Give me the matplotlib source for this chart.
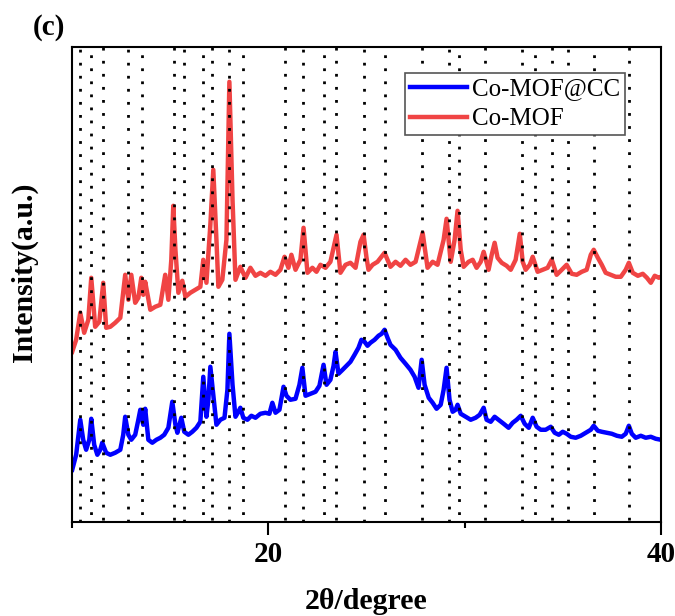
import numpy as np
import matplotlib
matplotlib.use('Agg')
import matplotlib.pyplot as plt

plt.rcParams['font.family'] = ['Liberation Serif', 'DejaVu Serif']

# 2theta (degree) and intensity (a.u.)
two_theta_mof = [10.00, 10.20, 10.41, 10.61, 10.82, 10.97, 11.17, 11.38, 11.58, 11.73,
                 11.94, 12.19, 12.45, 12.70, 12.86, 13.01, 13.21, 13.37, 13.52, 13.62,
                 13.72, 13.98, 14.23, 14.49, 14.74, 14.90, 15.05, 15.15, 15.26, 15.41,
                 15.61, 15.77, 16.02, 16.28, 16.53, 16.68, 16.84, 17.04, 17.19, 17.35,
                 17.45, 17.65, 17.86, 18.01, 18.17, 18.32, 18.57, 18.83, 19.08, 19.34,
                 19.59, 19.85, 20.10, 20.36, 20.61, 20.82, 21.02, 21.17, 21.38, 21.63,
                 21.79, 21.99, 22.24, 22.45, 22.65, 22.91, 23.16, 23.47, 23.67, 23.93,
                 24.18, 24.44, 24.69, 24.85, 25.00, 25.10, 25.31, 25.56, 25.92, 26.22,
                 26.48, 26.73, 26.99, 27.24, 27.50, 27.86, 28.11, 28.37, 28.62, 28.93,
                 29.08, 29.29, 29.49, 29.64, 29.80, 29.95, 30.20, 30.41, 30.61, 30.82,
                 30.97, 31.22, 31.38, 31.53, 31.68, 31.89, 32.14, 32.35, 32.60, 32.81,
                 32.96, 33.11, 33.32, 33.47, 33.72, 33.98, 34.23, 34.44, 34.69, 34.95,
                 35.20, 35.46, 35.71, 35.97, 36.22, 36.43, 36.58, 36.79, 36.99, 37.19,
                 37.45, 37.70, 37.96, 38.21, 38.37, 38.57, 38.83, 39.08, 39.29, 39.49,
                 39.69, 39.90, 40.00]
int_mof = [170, 182, 209, 189, 202, 244, 195, 200, 239, 194,
           195, 199, 204, 247, 222, 247, 219, 224, 244, 227,
           240, 212, 215, 217, 247, 222, 262, 316, 272, 229,
           241, 225, 229, 232, 235, 262, 239, 297, 352, 282,
           235, 242, 282, 440, 322, 242, 255, 244, 254, 246,
           249, 246, 250, 247, 252, 265, 254, 267, 252, 262,
           294, 249, 254, 250, 257, 254, 260, 287, 249, 257,
           259, 254, 280, 287, 264, 252, 257, 260, 269, 255,
           260, 256, 262, 257, 260, 289, 254, 260, 257, 282,
           303, 260, 282, 311, 272, 255, 260, 262, 254, 260,
           270, 252, 267, 279, 264, 259, 256, 252, 262, 288,
           260, 252, 257, 265, 250, 252, 254, 262, 247, 252,
           257, 248, 247, 250, 252, 267, 272, 264, 257, 249,
           247, 245, 245, 252, 259, 249, 246, 248, 244, 239,
           246, 244, 245]

two_theta_cc = [10.00, 10.20, 10.41, 10.56, 10.71, 10.87, 10.97, 11.12, 11.28, 11.43,
                11.53, 11.73, 11.94, 12.19, 12.45, 12.60, 12.70, 12.86, 13.01, 13.21,
                13.37, 13.47, 13.62, 13.72, 13.88, 14.08, 14.29, 14.49, 14.69, 14.90,
                15.10, 15.26, 15.36, 15.56, 15.71, 15.92, 16.12, 16.33, 16.53, 16.68,
                16.84, 16.94, 17.04, 17.19, 17.35, 17.55, 17.76, 17.91, 18.01, 18.17,
                18.32, 18.47, 18.57, 18.72, 18.93, 19.13, 19.34, 19.59, 19.85, 20.05,
                20.20, 20.36, 20.56, 20.77, 20.92, 21.12, 21.38, 21.58, 21.73, 21.89,
                22.14, 22.40, 22.60, 22.81, 22.96, 23.16, 23.32, 23.42, 23.57, 23.78,
                23.98, 24.18, 24.39, 24.59, 24.74, 24.90, 25.05, 25.20, 25.41, 25.61,
                25.77, 25.92, 26.07, 26.22, 26.48, 26.73, 26.99, 27.24, 27.45, 27.65,
                27.81, 27.96, 28.17, 28.37, 28.57, 28.78, 28.93, 29.08, 29.23, 29.39,
                29.54, 29.64, 29.80, 30.05, 30.31, 30.56, 30.77, 30.97, 31.12, 31.33,
                31.53, 31.73, 31.99, 32.24, 32.45, 32.65, 32.86, 33.06, 33.27, 33.47,
                33.67, 33.88, 34.13, 34.39, 34.59, 34.80, 35.00, 35.20, 35.41, 35.66,
                35.92, 36.17, 36.43, 36.58, 36.79, 36.99, 37.24, 37.50, 37.76, 38.01,
                38.21, 38.37, 38.52, 38.72, 38.98, 39.23, 39.49, 39.74, 40.00]
int_cc = [52, 67, 102, 82, 72, 82, 103, 77, 67, 72,
          79, 69, 67, 69, 72, 87, 105, 87, 82, 87,
          102, 112, 97, 113, 82, 79, 82, 84, 87, 94,
          120, 97, 89, 104, 90, 87, 90, 94, 100, 145,
          105, 122, 155, 127, 97, 102, 104, 132, 188, 137,
          105, 110, 114, 104, 102, 106, 104, 108, 109, 108,
          119, 109, 112, 135, 126, 122, 123, 137, 154, 126,
          128, 130, 136, 157, 137, 142, 156, 170, 148, 152,
          156, 160, 167, 174, 182, 180, 176, 179, 182, 186,
          188, 192, 184, 177, 172, 164, 158, 152, 145, 134,
          162, 137, 124, 119, 113, 117, 132, 154, 122, 110,
          112, 117, 108, 105, 102, 104, 107, 114, 102, 100,
          105, 102, 98, 94, 99, 102, 106, 98, 94, 104,
          95, 92, 92, 95, 89, 87, 90, 88, 85, 84,
          86, 89, 92, 96, 91, 90, 89, 88, 86, 85,
          88, 96, 88, 84, 86, 84, 85, 83, 82]

# reference peak positions (dotted lines)
peak_positions = [10.41, 10.95, 11.58, 12.84, 13.54, 15.17, 15.68, 16.65, 17.13, 18.00,
                  18.72, 20.83, 21.77, 22.82, 23.42, 24.85, 25.93, 27.81, 29.18, 29.69,
                  31.02, 32.91, 33.57, 34.44, 35.26, 36.57, 38.38]

fig = plt.figure(figsize=(6.75, 6.16), dpi=100)
ax = fig.add_axes([0.107, 0.153, 0.872, 0.771])

ax.plot(two_theta_cc, int_cc, color='#0000FF', lw=3.2, label='Co-MOF@CC', zorder=2)
ax.plot(two_theta_mof, int_mof, color='#F04444', lw=3.2, label='Co-MOF', zorder=2)

for i, p in enumerate(peak_positions):
    ax.axvline(p, color='black', lw=2, linestyle=(i % 3 * 2, (1, 3.7)), zorder=3)

ax.set_xlim(10, 40)
ax.set_ylim(0, 475)
ax.set_xticks([20, 40])
ax.set_xticks([10, 30], minor=True)
ax.set_yticks([])
ax.tick_params(axis='x', which='major', direction='out', length=9, width=1.5,
               labelsize=21, pad=5)
ax.tick_params(axis='x', which='minor', direction='out', length=4, width=1.5)
for lab in ax.get_xticklabels():
    lab.set_fontweight('bold')
for s in ax.spines.values():
    s.set_linewidth(1.5)

ax.set_xlabel('2θ/degree', fontsize=21.5, fontweight='bold', labelpad=14)
ax.set_ylabel('Intensity(a.u.)', fontsize=21.5, fontweight='bold')
ax.yaxis.set_label_coords(-0.058, 0.525)

leg = ax.legend(loc='upper left', bbox_to_anchor=(0.565, 0.945), fontsize=18,
                frameon=True, fancybox=False, edgecolor='#555555', framealpha=1,
                handlelength=2.3, handletextpad=0.2, borderpad=0.2,
                labelspacing=0.3, borderaxespad=0)
leg.get_frame().set_linewidth(1.2)

fig.text(0.049, 0.978, '(c)', fontsize=21, fontweight='bold', va='top', ha='left')

fig.savefig('out.png', dpi=100)
